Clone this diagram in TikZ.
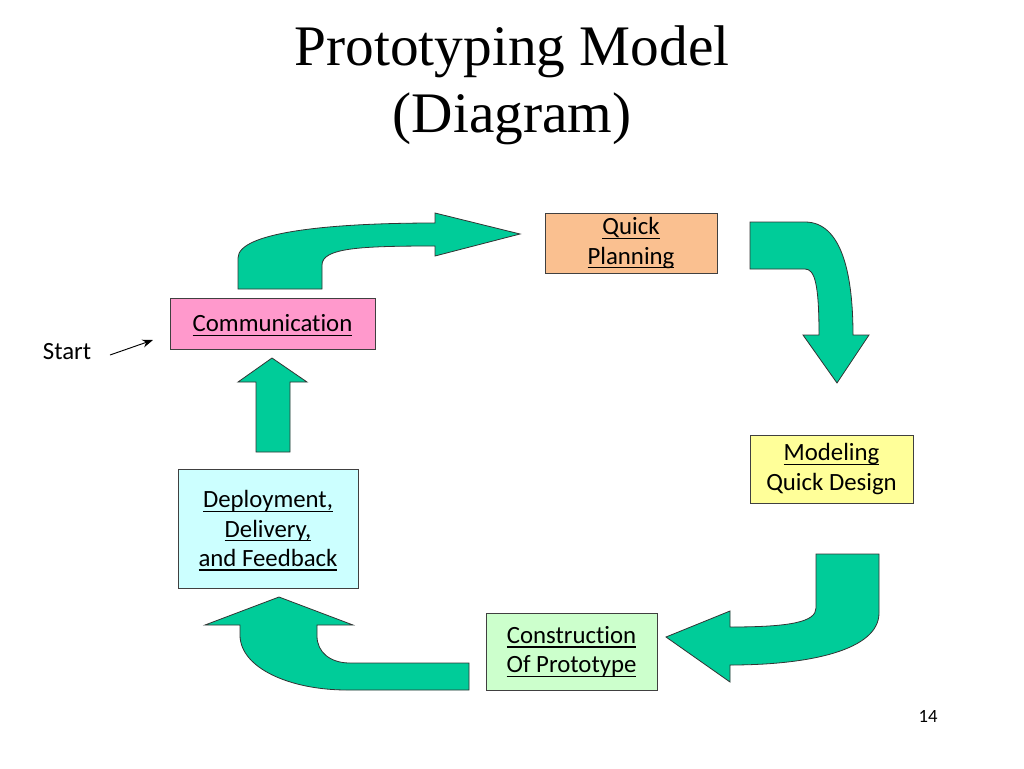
\documentclass[tikz,border=0pt]{standalone}
\usepackage{fontspec}
\setmainfont{Carlito}[Ligatures=NoCommon]
\newfontfamily\titlefont{Liberation Serif}
\usepackage{tikz}
\usetikzlibrary{arrows.meta}
\definecolor{arrowgreen}{RGB}{0,204,153}
\definecolor{commpink}{RGB}{255,153,204}
\definecolor{planpeach}{RGB}{250,192,144}
\definecolor{modelyellow}{RGB}{255,255,153}
\definecolor{buildgreen}{RGB}{204,255,204}
\definecolor{deploycyan}{RGB}{204,255,255}
\tikzstyle{stagebox}=[draw=black!75,line width=0.6pt,inner sep=0pt,align=center,font=\fontsize{18.6}{22}\selectfont]
\tikzstyle{blockarrow}=[fill=arrowgreen,draw=black!80,line width=0.6pt,line join=miter]
\newcommand{\ultext}[1]{\setbox0\hbox{#1}\rlap{\smash{\rule[-3.2pt]{\wd0}{1pt}}}\box0}

\begin{document}
\begin{tikzpicture}[x=0.75pt,y=-0.75pt]

  \def\px{0.75pt}

  \useasboundingbox[fill=white] (0,0) rectangle (1024,768);

  % title
  \node[font=\titlefont\fontsize{43}{50}\selectfont,align=center] (title) at (512,85) {Prototyping Model\\(Diagram)};

  % stages
  \node[stagebox,fill=planpeach,minimum width=172*\px,minimum height=60*\px] (plan) at (631,243) {\ultext{Quick}\\\ultext{Planning}};
  \node[stagebox,fill=commpink,minimum width=205*\px,minimum height=51*\px] (comm) at (272.5,323.5) {\ultext{Communication}};
  \node[stagebox,fill=modelyellow,minimum width=163*\px,minimum height=68*\px] (model) at (831.5,469) {\ultext{Modeling}\\Quick Design};
  \node[stagebox,fill=buildgreen,minimum width=171*\px,minimum height=77*\px] (build) at (571.5,651.5) {\ultext{Construction}\\\ultext{Of Prototype}};
  \node[stagebox,fill=deploycyan,minimum width=180*\px,minimum height=119*\px] (deploy) at (268,528.5) {\ultext{Deployment,}\\\ultext{Delivery,}\\\ultext{and Feedback}};

  % start
  \node[font=\fontsize{18.6}{22}\selectfont] (start) at (67,352) {Start};
  \coordinate (startfrom) at (110,355);
  \coordinate (startto) at (153,340);
  \draw[-{Stealth[length=8pt,width=6pt]},line width=0.7pt] (startfrom) -- (startto);

  % block arrows
  \draw[blockarrow] (238,289) -- (238,258) .. controls (238,232) and (330,223) .. (435,223) -- (435,213) -- (520,234) -- (435,256) -- (435,246) .. controls (360,246) and (322,248) .. (322,265) -- (322,289) -- cycle;
  \draw[blockarrow] (750,222) -- (805,222) .. controls (842,222) and (853,275) .. (853,335) -- (869,335) -- (837,383) -- (803,335) -- (819,335) .. controls (819,285) and (815,269) .. (805,269) -- (750,269) -- cycle;
  \draw[blockarrow] (816,554) -- (879,554) -- (879,613) .. controls (879,650) and (810,665) .. (730,665) -- (730,682) -- (666,637) -- (730,611) -- (730,627) .. controls (790,627) and (816,622) .. (816,608) -- cycle;
  \draw[blockarrow] (469,663) -- (469,690) -- (347,690) .. controls (290,690) and (240,668) .. (240,635) -- (240,625) -- (205,625) -- (279,597) -- (353,625) -- (317,625) -- (317,636) .. controls (317,652) and (330,663) .. (350,663) -- cycle;
  \draw[blockarrow] (256,452) -- (256,382) -- (238,382) -- (272,358) -- (307,382) -- (290,382) -- (290,452) -- cycle;

  % page number
  \node[font=\fontsize{14}{16}\selectfont] (pagenum) at (928,716) {14};

\end{tikzpicture}
\end{document}
